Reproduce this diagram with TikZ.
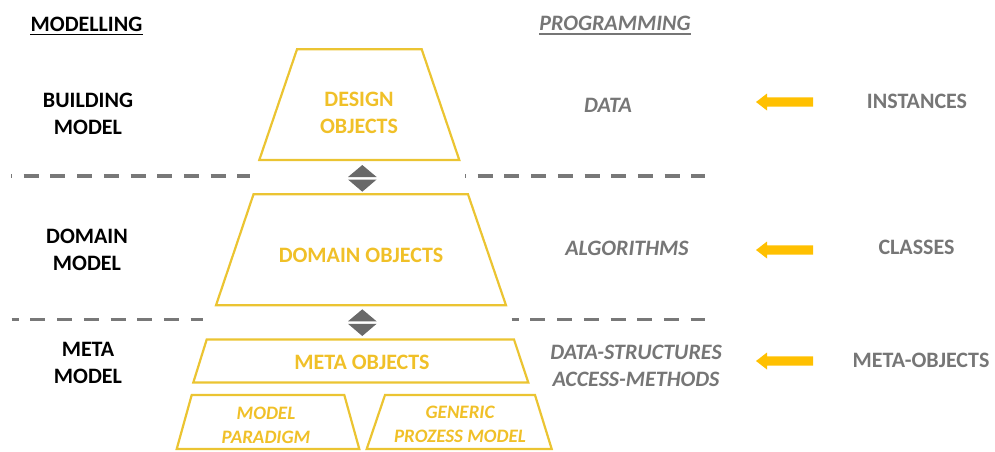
\documentclass[tikz,border=0pt]{standalone}
\usepackage{fontspec}
\setmainfont{Carlito}
\definecolor{trapline}{RGB}{235,196,50}
\definecolor{ytxt}{RGB}{240,192,40}
\definecolor{arrowy}{RGB}{255,192,0}
\definecolor{gtxt}{RGB}{118,118,118}
\definecolor{dashg}{RGB}{120,120,120}
\definecolor{diag}{RGB}{105,105,105}
\begin{document}
\begin{tikzpicture}[x=1pt,y=-1pt,
  trap/.style={draw=trapline, line width=2.2pt, line join=miter},
  lbl/.style={inner sep=0pt, anchor=north, align=center},
  big/.style={font=\fontsize{22}{27}\selectfont\bfseries},
  small/.style={font=\fontsize{19}{24.5}\selectfont\bfseries\itshape},
  modtext/.style={lbl, big, text=black},
  boxtext/.style={lbl, big, text=ytxt},
  subtext/.style={lbl, small, text=ytxt},
  progtext/.style={lbl, font=\fontsize{22}{27}\selectfont\bfseries\itshape, text=gtxt},
  kindtext/.style={lbl, big, text=gtxt},
  sep/.style={draw=dashg, line width=3.5pt, dash pattern=on 15pt off 11.7pt},
  pics/updown/.style={code={
    \fill[diag] (-14.3,12) -- (0,0) -- (14.3,12) -- cycle;
    \fill[diag] (-14.3,14.5) -- (0,26.7) -- (14.3,14.5) -- cycle;}},
  pics/blockarrow/.style={code={
    \fill[arrowy] (0,0) -- (11,-8.5) -- (11,-4.7) -- (57,-4.7) -- (57,4.7)
      -- (11,4.7) -- (11,8.5) -- cycle;}}
]
\useasboundingbox (0,0) rectangle (995,451);

% column headings
\node[modtext] (modhead) at (86.5,17) {MODELLING};
\draw[black, line width=1.6pt] ([yshift=-2.5pt]modhead.south west) -- ([yshift=-2.5pt]modhead.south east);
\node[progtext] (proghead) at (615,16.3) {PROGRAMMING};
\draw[gtxt, line width=1.6pt] ([yshift=-2.5pt]proghead.south west) -- ([yshift=-2.5pt]proghead.south east);

% modelling levels
\node[modtext] (building) at (88,93) {BUILDING\\MODEL};
\node[modtext] (domain) at (87,228.5) {DOMAIN\\MODEL};
\node[modtext] (meta) at (88,342.5) {META\\MODEL};

% level separators
\draw[sep, dash phase=14pt] (11,176) -- (250,176);
\draw[sep, dash phase=14pt] (465,176) -- (705,176);
\draw[sep, dash phase=8pt] (11.7,319.5) -- (203,319.5);
\draw[sep, dash phase=8pt] (511.7,319.5) -- (705,319.5);

% object pyramid
\draw[trap] (297,49.3) -- (421.7,49.3) -- (459.3,160) -- (259.3,160) -- cycle;
\node[boxtext] (design) at (359,92.3) {DESIGN\\OBJECTS};

\pic at (362.3,165) {updown};

\draw[trap] (253.5,194.3) -- (468,194.3) -- (506,305.3) -- (216,305.3) -- cycle;
\node[boxtext] (domobj) at (361,248) {DOMAIN OBJECTS};

\pic at (362.3,309.3) {updown};

\draw[trap] (206.7,339.5) -- (514,339.5) -- (528.3,382.5) -- (193.3,382.5) -- cycle;
\node[boxtext] (metaobj) at (362,354.7) {META OBJECTS};

\draw[trap] (191.7,395) -- (344.3,395) -- (359.3,449) -- (176.7,449) -- cycle;
\node[subtext] (paradigm) at (266,406.7) {MODEL\\PARADIGM};

\draw[trap] (385,395) -- (535,395) -- (551.7,449) -- (366.7,449) -- cycle;
\node[subtext] (generic) at (460,405.5) {GENERIC\\PROZESS MODEL};

% programming counterparts
\node[progtext] (data) at (608,98) {DATA};
\node[progtext] (algo) at (627,241.3) {ALGORITHMS};
\node[progtext] (struct) at (636,344.7) {DATA-STRUCTURES\\ACCESS-METHODS};

% arrows and kinds
\pic at (756,102) {blockarrow};
\node[kindtext] (inst) at (917,93.7) {INSTANCES};
\pic at (756,250) {blockarrow};
\node[kindtext] (classes) at (916.5,240) {CLASSES};
\pic at (756,361) {blockarrow};
\node[kindtext] (metaobjs) at (921,353) {META-OBJECTS};
\end{tikzpicture}
\end{document}
